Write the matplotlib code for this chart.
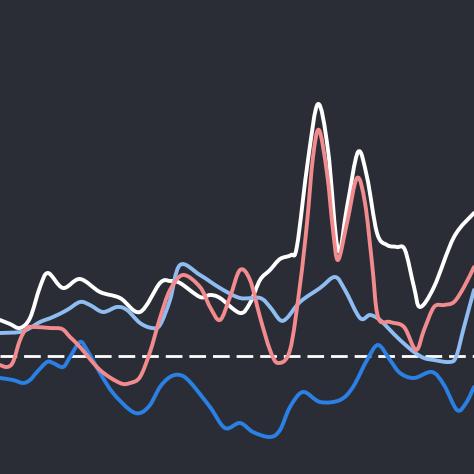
import matplotlib
matplotlib.use("Agg")
import matplotlib.pyplot as plt
from matplotlib.path import Path
from matplotlib.patches import PathPatch

# readings per series: x position (0..474) and value (baseline = 0)
white_x = [0, 10, 20, 30, 40, 48, 63, 80, 100, 120, 140, 160, 170, 180, 200, 210, 220, 240,
           250, 260, 270, 280, 291, 297, 308, 318, 328, 338, 347, 358, 367, 377, 387, 397,
           405, 414, 420, 434, 454, 474]
white_y = [3.6, 3.2, 2.8, 3.8, 6.9, 8.3, 6.8, 7.7, 6.4, 5.8, 4.4, 7.3, 7.5, 7.3, 5.9, 6.1, 5.8, 4.3,
           5.3, 7.6, 8.6, 9.7, 10.1, 11.0, 19.6, 25.2, 20.6, 10.6, 14.9, 20.4, 17.9, 12.3, 11.1, 10.9,
           10.6, 6.9, 4.9, 6.9, 11.9, 14.3]

pink_x = [0, 7, 13, 20, 27, 35, 50, 62, 70, 80, 100, 120, 130, 140, 150, 160, 170, 183, 200,
          210, 220, 230, 240, 250, 260, 270, 278, 290, 300, 307, 313, 319, 327, 333, 338, 347,
          357, 365, 372, 378, 390, 404, 416, 424, 434, 444, 454, 464, 474]
pink_y = [-0.9, -1.1, -0.6, 1.6, 2.8, 2.9, 2.8, 2.7, 1.9, 0.9, -1.4, -2.7, -2.7, -2.1, 0.4, 3.8, 6.6, 8.1, 6.9,
          4.9, 3.6, 5.9, 8.6, 7.6, 3.9, 0.6, -0.7, 0.6, 7.1, 13.3, 19.9, 22.6, 18.3, 12.6, 9.6, 13.3,
          17.8, 15.3, 9.3, 3.9, 3.4, 2.9, 0.6, 2.6, 4.9, 5.1, 5.4, 6.9, 8.9]

light_x = [0, 20, 30, 40, 53, 67, 80, 90, 103, 117, 127, 140, 152, 160, 170, 180, 200, 220, 240,
           260, 270, 280, 287, 300, 320, 335, 345, 360, 370, 380, 390, 400, 414, 424, 434, 449,
           456, 464, 474]
light_y = [2.3, 2.4, 2.8, 3.4, 3.9, 4.6, 5.4, 5.1, 4.4, 4.9, 4.6, 3.3, 2.8, 3.1, 5.6, 9.1, 8.1, 6.8, 5.8,
           5.8, 4.9, 3.6, 3.8, 5.4, 6.8, 7.9, 6.6, 3.8, 4.1, 3.6, 2.6, 1.6, 0.4, -0.2, -0.4, -0.6,
           -0.1, 2.9, 6.6]

blue_x = [0, 13, 23, 30, 37, 47, 53, 63, 70, 80, 87, 100, 113, 130, 140, 150, 160, 170, 180, 190,
          210, 225, 240, 253, 270, 280, 290, 303, 320, 340, 353, 367, 378, 390, 400, 414, 432, 444,
          457, 466, 474]
blue_y = [-2.2, -2.4, -2.7, -2.4, -1.6, -0.6, -0.7, -1.1, -0.1, 1.4, 0.6, -1.7, -3.7, -5.4, -5.7, -4.9,
          -3.1, -2.1, -1.9, -2.6, -5.1, -7.2, -6.7, -7.6, -8.1, -7.4, -5.1, -3.6, -4.6, -4.4, -3.1,
          -0.4, 1.1, -0.4, -1.7, -2.2, -1.6, -2.9, -5.4, -4.7, -3.1]

baseline = 0.0


def smooth_path(xs, ys):
    # catmull-rom through the points, drawn as cubic beziers
    pts = list(zip(xs, ys))
    verts = [pts[0]]
    codes = [Path.MOVETO]
    n = len(pts)
    for i in range(n - 1):
        p0 = pts[i - 1] if i > 0 else pts[i]
        p1 = pts[i]
        p2 = pts[i + 1]
        p3 = pts[i + 2] if i + 2 < n else pts[i + 1]
        c1 = (p1[0] + (p2[0] - p0[0]) / 6, p1[1] + (p2[1] - p0[1]) / 6)
        c2 = (p2[0] - (p3[0] - p1[0]) / 6, p2[1] - (p3[1] - p1[1]) / 6)
        verts += [c1, c2, p2]
        codes += [Path.CURVE4] * 3
    return Path(verts, codes)


bg = "#2a2d36"
fig = plt.figure(figsize=(4.74, 4.74), dpi=100, facecolor=bg)
ax = fig.add_axes([0, 0, 1, 1])
ax.set_facecolor(bg)
ax.set_xlim(0, 474)
ax.set_ylim(-11.8, 35.6)
ax.axis("off")

ax.axhline(baseline, color="#ffffff", lw=2.0, dashes=(6, 2.5), zorder=1)

series = [
    (white_x, white_y, "#ffffff", 2),
    (light_x, light_y, "#8fbdf2", 3),
    (blue_x, blue_y, "#2a80e4", 4),
    (pink_x, pink_y, "#f28b8e", 5),
]
for xs, ys, col, z in series:
    patch = PathPatch(smooth_path(xs, ys), facecolor="none", edgecolor=col,
                      lw=2.8, capstyle="round", joinstyle="round", zorder=z)
    ax.add_patch(patch)

fig.savefig("out.png", dpi=100, facecolor=bg)
